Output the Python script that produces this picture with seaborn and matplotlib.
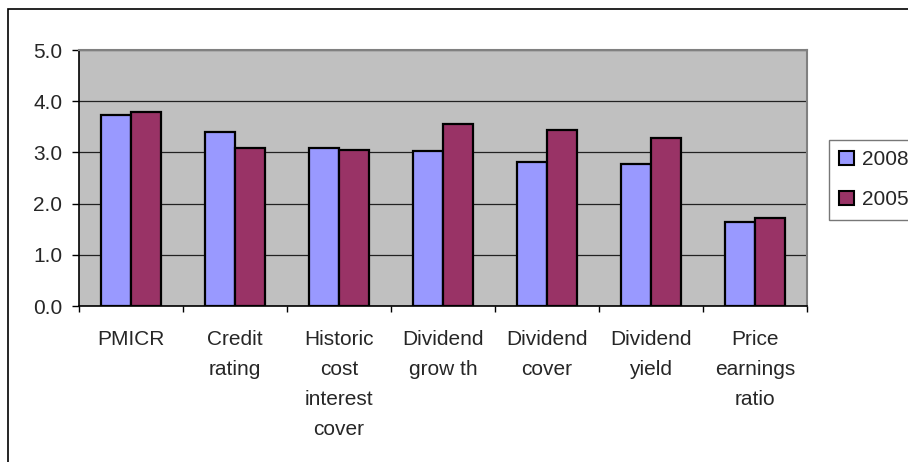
import matplotlib
matplotlib.use("Agg")
import matplotlib.pyplot as plt
from matplotlib.patches import Rectangle
from matplotlib.ticker import FixedLocator
import numpy as np
import pandas as pd
import seaborn as sns

categories = ["PMICR", "Credit\nrating", "Historic\ncost\ninterest\ncover",
              "Dividend\ngrow th", "Dividend\ncover", "Dividend\nyield",
              "Price\nearnings\nratio"]
years = ["2008", "2005"]
values_2008 = [3.74, 3.39, 3.09, 3.03, 2.81, 2.77, 1.64]
values_2005 = [3.78, 3.08, 3.04, 3.55, 3.44, 3.28, 1.71]
y_ticks = [0.0, 1.0, 2.0, 3.0, 4.0, 5.0]

df = pd.DataFrame({
    "category": categories * 2,
    "year": [years[0]] * len(categories) + [years[1]] * len(categories),
    "value": values_2008 + values_2005,
})

sns.set_style("white")
plt.rcParams["font.family"] = ["Liberation Sans", "DejaVu Sans"]

W, H = 908, 462
FS = 15
fig = plt.figure(figsize=(W / 100, H / 100), dpi=100)
ax = fig.add_axes([79 / W, 1 - 306 / H, (807 - 79) / W, (306 - 50) / H])
ax.set_facecolor("#C0C0C0")

palette = {"2008": "#9999FF", "2005": "#993366"}
sns.barplot(data=df, x="category", y="value", hue="year", hue_order=years,
            order=categories, palette=palette, saturation=1,
            edgecolor="black", linewidth=1.6, width=0.58, gap=0,
            ax=ax, zorder=3)

ax.set_xlim(-0.5, len(categories) - 0.5)
ax.set_ylim(0, 5)
ax.set_yticks(y_ticks)
ax.set_yticklabels([f"{v:.1f}" for v in y_ticks], fontsize=FS)
ax.yaxis.grid(True, color="#222222", linewidth=0.9, zorder=1)
ax.set_axisbelow(True)
ax.set_xlabel("")
ax.set_ylabel("")

# category labels centred, tick marks on the group boundaries
ax.tick_params(axis="x", which="major", length=0, pad=17, labelsize=FS)
ax.xaxis.set_minor_locator(FixedLocator(np.arange(-0.5, len(categories), 1.0)))
ax.tick_params(axis="x", which="minor", length=4.3, width=1, color="black",
               direction="out", bottom=True)
ax.tick_params(axis="y", which="major", length=5, width=1, color="black",
               direction="out", left=True, pad=7)
for lbl in ax.get_xticklabels():
    lbl.set_linespacing(1.75)
    lbl.set_verticalalignment("top")

for side in ("left", "bottom"):
    ax.spines[side].set_color("black")
    ax.spines[side].set_linewidth(1.2)
for side in ("top", "right"):
    ax.spines[side].set_color("#808080")
    ax.spines[side].set_linewidth(1.5)

handles, labels = ax.get_legend_handles_labels()
ax.legend(handles, labels, loc="upper left",
          bbox_to_anchor=(829 / W, 1 - 140 / H), bbox_transform=fig.transFigure,
          fontsize=FS, frameon=True, fancybox=False, edgecolor="#555555",
          handlelength=0.7, handleheight=0.7, handletextpad=0.4,
          borderpad=0.5, labelspacing=1.0, borderaxespad=0)
leg = ax.get_legend()
leg.get_frame().set_linewidth(1.0)
for h in leg.legend_handles:
    h.set_edgecolor("black")
    h.set_linewidth(1.5)

# outer chart frame
fig.patches.append(Rectangle((8 / W, -0.05), 1.1, 1 - 9 / H + 0.05,
                             transform=fig.transFigure, fill=False,
                             edgecolor="black", linewidth=1.2))

fig.savefig("out.png", dpi=100)
